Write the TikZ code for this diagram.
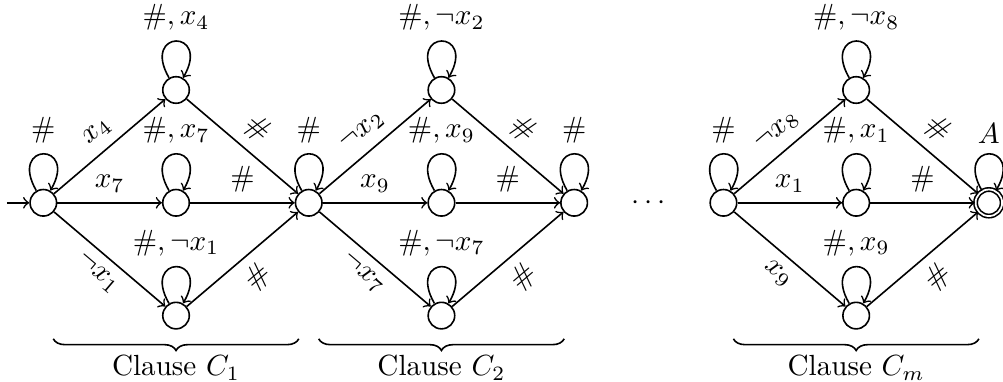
\documentclass[tikz,border=0pt]{standalone}
\usetikzlibrary{decorations.pathreplacing}
\tikzset{
  zst/.style={circle, draw, minimum size=0.32cm, inner sep=0pt},
  schleife/.style={loop, out=120, in=60, min distance=8.5mm},
  klammer/.style={decorate, decoration={brace, mirror, amplitude=4pt}},
}
\begin{document}
\begin{tikzpicture}[>=to, scale=0.8, line width=0.55pt]
  \useasboundingbox (-0.653,-2.687) rectangle (14.463,3.056);
  % Zustaende Klausel 1
  \node[zst] (q0) at (0,0) {};
  \node[zst] (a1) at (2,1.7) {};
  \node[zst] (b1) at (2,0) {};
  \node[zst] (c1) at (2,-1.7) {};
  \node[zst] (q1) at (4,0) {};
  % Zustaende Klausel 2
  \node[zst] (a2) at (6,1.7) {};
  \node[zst] (b2) at (6,0) {};
  \node[zst] (c2) at (6,-1.7) {};
  \node[zst] (q2) at (8,0) {};
  \node (punkte) at (9.125,0) {$\cdots$};
  % Zustaende Klausel m
  \node[zst] (qm) at (10.25,0) {};
  \node[zst] (am) at (12.25,1.7) {};
  \node[zst] (bm) at (12.25,0) {};
  \node[zst] (cm) at (12.25,-1.7) {};
  \node[zst, double] (qf) at (14.25,0) {};
  % Start
  \coordinate (start) at (-0.55,0);
  \draw[->] (start) -- (q0);
  % Schleifen
  \draw[->] (q0) to[schleife] node[above] {$\#$} (q0);
  \draw[->] (q1) to[schleife] node[above] {$\#$} (q1);
  \draw[->] (q2) to[schleife] node[above] {$\#$} (q2);
  \draw[->] (qm) to[schleife] node[above] {$\#$} (qm);
  \draw[->] (qf) to[schleife] node[above] {$A$} (qf);
  \draw[->] (a1) to[schleife] node[above] {$\#, x_4$} (a1);
  \draw[->] (b1) to[schleife] node[above] {$\#, x_7$} (b1);
  \draw[->] (c1) to[schleife] node[above] {$\#, \neg x_1$} (c1);
  \draw[->] (a2) to[schleife] node[above] {$\#, \neg x_2$} (a2);
  \draw[->] (b2) to[schleife] node[above] {$\#, x_9$} (b2);
  \draw[->] (c2) to[schleife] node[above] {$\#, \neg x_7$} (c2);
  \draw[->] (am) to[schleife] node[above] {$\#, \neg x_8$} (am);
  \draw[->] (bm) to[schleife] node[above] {$\#, x_1$} (bm);
  \draw[->] (cm) to[schleife] node[above] {$\#, x_9$} (cm);
  % Kanten Klausel 1
  \draw[->] (q0) -- node[above, sloped] {$x_4$} (a1);
  \draw[->] (q0) -- node[above] {$x_7$} (b1);
  \draw[->] (q0) -- node[below, sloped] {$\neg x_1$} (c1);
  \draw[->] (a1) -- node[above, sloped] {$\#$} (q1);
  \draw[->] (b1) -- node[above] {$\#$} (q1);
  \draw[->] (c1) -- node[below, sloped] {$\#$} (q1);
  % Kanten Klausel 2
  \draw[->] (q1) -- node[above, sloped] {$\neg x_2$} (a2);
  \draw[->] (q1) -- node[above] {$x_9$} (b2);
  \draw[->] (q1) -- node[below, sloped] {$\neg x_7$} (c2);
  \draw[->] (a2) -- node[above, sloped] {$\#$} (q2);
  \draw[->] (b2) -- node[above] {$\#$} (q2);
  \draw[->] (c2) -- node[below, sloped] {$\#$} (q2);
  % Kanten Klausel m
  \draw[->] (qm) -- node[above, sloped] {$\neg x_8$} (am);
  \draw[->] (qm) -- node[above] {$x_1$} (bm);
  \draw[->] (qm) -- node[below, sloped] {$x_9$} (cm);
  \draw[->] (am) -- node[above, sloped] {$\#$} (qf);
  \draw[->] (bm) -- node[above] {$\#$} (qf);
  \draw[->] (cm) -- node[below, sloped] {$\#$} (qf);
  % Klammern
  \draw[klammer] (0.15,-2.05) -- node[below=2pt] (k1) {Clause $C_1$} (3.85,-2.05);
  \draw[klammer] (4.15,-2.05) -- node[below=2pt] (k2) {Clause $C_2$} (7.85,-2.05);
  \draw[klammer] (10.4,-2.05) -- node[below=2pt] (km) {Clause $C_m$} (14.1,-2.05);
\end{tikzpicture}
\end{document}
